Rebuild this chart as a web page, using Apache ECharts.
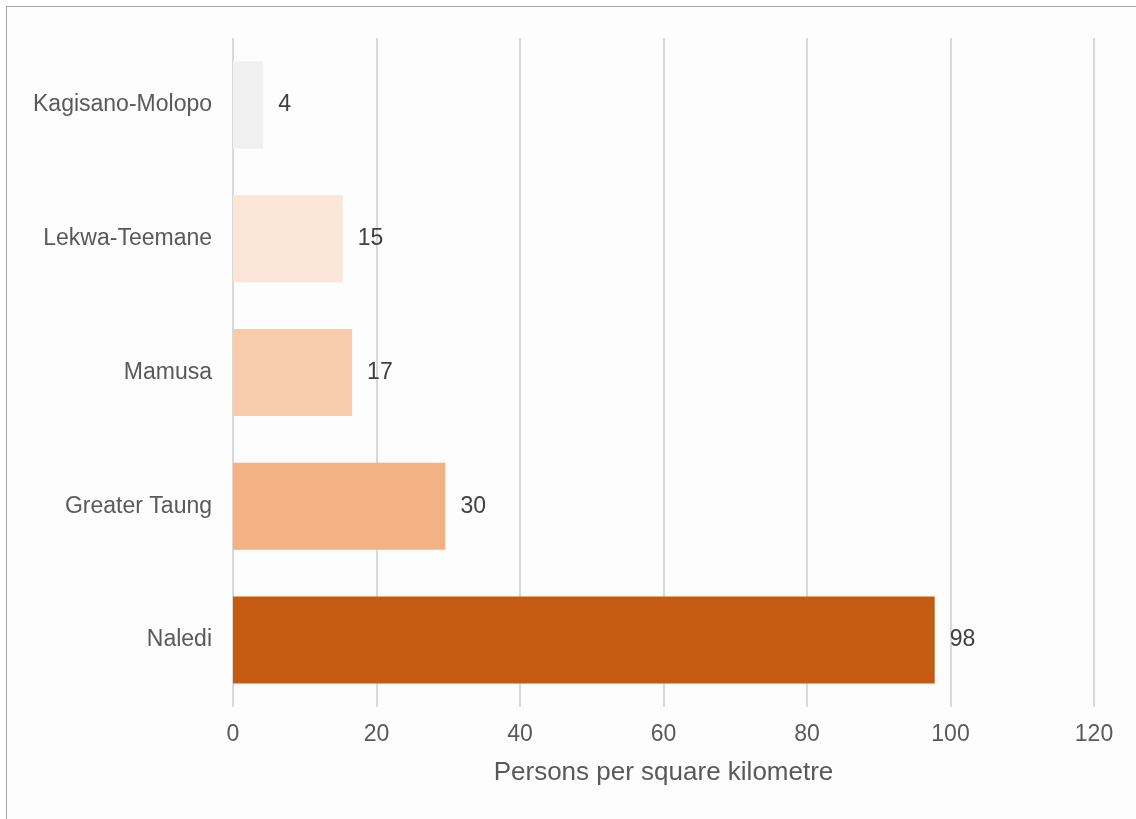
<!DOCTYPE html>
<html><head><meta charset="utf-8">
<script src="https://cdn.jsdelivr.net/npm/echarts@6/dist/echarts.min.js"></script>
<style>
html,body{margin:0;padding:0;background:#fff;}
#frame{position:absolute;left:6px;top:6px;width:1140px;height:830px;border:1px solid #a6a6a6;background:#fdfdfd;}
#c{position:absolute;left:0;top:0;width:1136px;height:819px;}
</style></head>
<body><div id="frame"></div><div id="c"></div>
<script>
const categories = ['Naledi','Greater Taung','Mamusa','Lekwa-Teemane','Kagisano-Molopo'];
const values = [97.8, 29.6, 16.6, 15.3, 4.2];
const colors = ['#c55a11','#f4b183','#f8cbad','#fbe5d6','#f0f0f0'];
const xTicks = [0,20,40,60,80,100,120];
const axisTitle = 'Persons per square kilometre';

const chart = echarts.init(document.getElementById('c'), null, {renderer:'canvas'});
chart.setOption({
  animation:false,
  backgroundColor:'transparent',
  textStyle:{fontFamily:'Liberation Sans, Arial, sans-serif'},
  grid:{left:233,right:42,top:38,bottom:112,containLabel:false},
  xAxis:{
    type:'value',min:xTicks[0],max:xTicks[xTicks.length-1],interval:20,
    name:axisTitle,nameLocation:'middle',nameGap:53,
    nameTextStyle:{color:'#595959',fontSize:26},
    axisLine:{show:false},axisTick:{show:false},
    axisLabel:{color:'#595959',fontSize:23,margin:16},
    splitLine:{lineStyle:{color:'#d9d9d9',width:2}}
  },
  yAxis:{
    type:'category',data:categories,
    axisLine:{show:false},axisTick:{show:false},
    axisLabel:{color:'#595959',fontSize:23,margin:21}
  },
  series:[{
    type:'bar',barWidth:'65%',
    data:values.map((v,i)=>({value:v,itemStyle:{color:colors[i]}})),
    label:{show:true,position:'right',distance:15,color:'#404040',fontSize:23,
      formatter:p=>Math.round(p.value)}
  }]
});
</script></body></html>
